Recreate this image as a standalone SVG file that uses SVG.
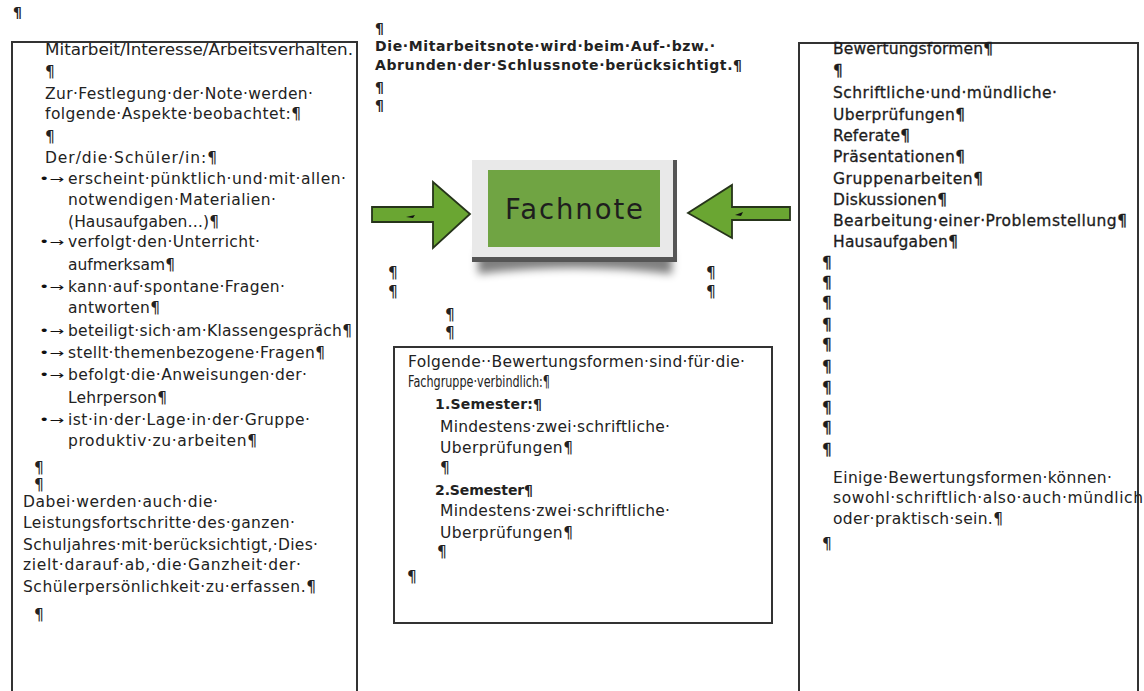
<svg xmlns="http://www.w3.org/2000/svg" width="1144" height="691" viewBox="0 0 1144 691">
<defs>
<style>
.t{font-family:"DejaVu Sans","Verdana",sans-serif;font-size:15.5px;fill:#222}
.b{font-family:"DejaVu Sans","Verdana",sans-serif;font-size:14px;font-weight:bold;fill:#222}
.r{font-family:"DejaVu Sans","Verdana",sans-serif;font-size:15.5px;fill:#1c1c1c;stroke:#1c1c1c;stroke-width:0.3}
.bul{font-family:"DejaVu Sans",sans-serif;font-size:12px;fill:#111}
.frame{fill:#fff;stroke:#333;stroke-width:2}
.arrow{fill:#6aa632;stroke:#26341a;stroke-width:1.8;stroke-linejoin:miter}
</style>
<clipPath id="clipL"><rect x="12" y="43" width="345" height="660"/></clipPath>
<filter id="sh" x="-20%" y="-20%" width="140%" height="160%"><feGaussianBlur stdDeviation="4"/></filter>
</defs>
<rect width="1144" height="691" fill="#fff"/>
<text class="b" x="13" y="17">¶</text>

<g id="left-box">
<rect class="frame" x="12" y="42" width="345" height="700"/>
<g clip-path="url(#clipL)">
<text class="t" x="45" y="55" textLength="308" lengthAdjust="spacingAndGlyphs">Mitarbeit/Interesse/Arbeitsverhalten.</text>
</g>
<text class="t" x="45" y="77">¶</text>
<text class="t" x="45" y="99" textLength="268" lengthAdjust="spacing">Zur·Festlegung·der·Note·werden·</text>
<text class="t" x="45" y="119" textLength="256" lengthAdjust="spacing">folgende·Aspekte·beobachtet:¶</text>
<text class="t" x="45" y="142">¶</text>
<text class="t" x="45" y="163" textLength="172" lengthAdjust="spacing">Der/die·Schüler/in:¶</text>
<text class="bul" x="39" y="183" textLength="25" lengthAdjust="spacingAndGlyphs">•→</text>
<text class="t" x="68" y="184" textLength="278" lengthAdjust="spacing">erscheint·pünktlich·und·mit·allen·</text>
<text class="t" x="68" y="205" textLength="208" lengthAdjust="spacing">notwendigen·Materialien·</text>
<text class="t" x="68" y="227" textLength="151" lengthAdjust="spacing">(Hausaufgaben…)¶</text>
<text class="bul" x="39" y="246" textLength="25" lengthAdjust="spacingAndGlyphs">•→</text>
<text class="t" x="68" y="247" textLength="192" lengthAdjust="spacing">verfolgt·den·Unterricht·</text>
<text class="t" x="68" y="270" textLength="107" lengthAdjust="spacing">aufmerksam¶</text>
<text class="bul" x="39" y="291" textLength="25" lengthAdjust="spacingAndGlyphs">•→</text>
<text class="t" x="68" y="292" textLength="217" lengthAdjust="spacing">kann·auf·spontane·Fragen·</text>
<text class="t" x="68" y="313" textLength="92" lengthAdjust="spacing">antworten¶</text>
<text class="bul" x="39" y="335" textLength="25" lengthAdjust="spacingAndGlyphs">•→</text>
<text class="t" x="68" y="336" textLength="284" lengthAdjust="spacing">beteiligt·sich·am·Klassengespräch¶</text>
<text class="bul" x="39" y="357" textLength="25" lengthAdjust="spacingAndGlyphs">•→</text>
<text class="t" x="68" y="358" textLength="257" lengthAdjust="spacing">stellt·themenbezogene·Fragen¶</text>
<text class="bul" x="39" y="379" textLength="25" lengthAdjust="spacingAndGlyphs">•→</text>
<text class="t" x="68" y="380" textLength="239" lengthAdjust="spacing">befolgt·die·Anweisungen·der·</text>
<text class="t" x="68" y="403" textLength="99" lengthAdjust="spacing">Lehrperson¶</text>
<text class="bul" x="39" y="424" textLength="25" lengthAdjust="spacingAndGlyphs">•→</text>
<text class="t" x="68" y="425" textLength="242" lengthAdjust="spacing">ist·in·der·Lage·in·der·Gruppe·</text>
<text class="t" x="68" y="446" textLength="189" lengthAdjust="spacing">produktiv·zu·arbeiten¶</text>
<text class="t" x="34" y="473">¶</text>
<text class="t" x="34" y="490">¶</text>
<text class="t" x="23" y="507" textLength="195" lengthAdjust="spacing">Dabei·werden·auch·die·</text>
<text class="t" x="23" y="528" textLength="272" lengthAdjust="spacing">Leistungsfortschritte·des·ganzen·</text>
<text class="t" x="23" y="550" textLength="295" lengthAdjust="spacing">Schuljahres·mit·berücksichtigt,·Dies·</text>
<text class="t" x="23" y="570" textLength="278" lengthAdjust="spacing">zielt·darauf·ab,·die·Ganzheit·der·</text>
<text class="t" x="23" y="592" textLength="293" lengthAdjust="spacing">Schülerpersönlichkeit·zu·erfassen.¶</text>
<text class="t" x="34" y="620">¶</text>
</g>

<g id="center-note">
<text class="b" x="375" y="33">¶</text>
<text class="b" x="375" y="51" textLength="340" lengthAdjust="spacing">Die·Mitarbeitsnote·wird·beim·Auf-·bzw.·</text>
<text class="b" x="375" y="70" textLength="367" lengthAdjust="spacing">Abrunden·der·Schlussnote·berücksichtigt.¶</text>
<text class="b" x="375" y="92">¶</text>
<text class="b" x="375" y="110">¶</text>
</g>

<g id="fachnote">
<path d="M478,250 L672,250 L672,274 Q575,262 478,274 Z" fill="#000" opacity="0.5" filter="url(#sh)"/>
<rect x="472" y="160" width="204" height="99" fill="#e9e9e9"/>
<rect x="673" y="160" width="4" height="101" fill="#555"/>
<rect x="472" y="257" width="205" height="5" fill="#555"/>
<rect x="488" y="170" width="172" height="77" fill="#70a443"/>
<text x="505" y="219" textLength="138" lengthAdjust="spacing" font-family="DejaVu Sans, Verdana, sans-serif" font-size="27.5" fill="#1e1e1e">Fachnote</text>
</g>

<g id="connectors">
<polygon class="arrow" points="372,207 433,207 433,182 470,214 433,248 433,222 372,222"/>
<path d="M406,217 L415,215 L413,218 Z" fill="#111"/>
<polygon class="arrow" points="790,207 732,207 732,185 688,213 732,238 732,220 790,220"/>
<path d="M735,215 L743,212 L741,216 Z" fill="#111"/>
</g>

<g id="pilcrows">
<text class="t" x="388" y="278">¶</text>
<text class="t" x="388" y="297">¶</text>
<text class="t" x="706" y="278">¶</text>
<text class="t" x="706" y="297">¶</text>
<text class="t" x="445" y="320">¶</text>
<text class="t" x="445" y="338">¶</text>
</g>

<g id="center-box">
<rect class="frame" x="394" y="347" width="378" height="276"/>
<text class="t" x="408" y="367" textLength="337" lengthAdjust="spacing">Folgende··Bewertungsformen·sind·für·die·</text>
<text class="t" x="408" y="387" textLength="142" lengthAdjust="spacingAndGlyphs">Fachgruppe·verbindlich:¶</text>
<text class="b" x="435" y="409" textLength="107" lengthAdjust="spacing">1.Semester:¶</text>
<text class="t" x="440" y="432" textLength="230" lengthAdjust="spacing">Mindestens·zwei·schriftliche·</text>
<text class="t" x="440" y="453" textLength="133" lengthAdjust="spacing">Uberprüfungen¶</text>
<text class="t" x="440" y="473">¶</text>
<text class="b" x="435" y="495" textLength="98" lengthAdjust="spacing">2.Semester¶</text>
<text class="t" x="440" y="516" textLength="230" lengthAdjust="spacing">Mindestens·zwei·schriftliche·</text>
<text class="t" x="440" y="538" textLength="133" lengthAdjust="spacing">Uberprüfungen¶</text>
<text class="t" x="437" y="557">¶</text>
<text class="t" x="407" y="582">¶</text>
</g>

<g id="right-box">
<rect class="frame" x="799" y="43" width="339" height="700"/>
<text class="r" x="833" y="54" textLength="160" lengthAdjust="spacing">Bewertungsformen¶</text>
<text class="r" x="833" y="76">¶</text>
<text class="r" x="833" y="98" textLength="224" lengthAdjust="spacing">Schriftliche·und·mündliche·</text>
<text class="r" x="833" y="120" textLength="132" lengthAdjust="spacing">Uberprüfungen¶</text>
<text class="r" x="833" y="141" textLength="77" lengthAdjust="spacing">Referate¶</text>
<text class="r" x="833" y="162" textLength="132" lengthAdjust="spacing">Präsentationen¶</text>
<text class="r" x="833" y="184" textLength="150" lengthAdjust="spacing">Gruppenarbeiten¶</text>
<text class="r" x="833" y="205" textLength="114" lengthAdjust="spacing">Diskussionen¶</text>
<text class="r" x="833" y="226" textLength="294" lengthAdjust="spacing">Bearbeitung·einer·Problemstellung¶</text>
<text class="r" x="833" y="247" textLength="125" lengthAdjust="spacing">Hausaufgaben¶</text>
<text class="r" x="822" y="268">¶</text>
<text class="r" x="822" y="288">¶</text>
<text class="r" x="822" y="308">¶</text>
<text class="r" x="822" y="330">¶</text>
<text class="r" x="822" y="350">¶</text>
<text class="r" x="822" y="372">¶</text>
<text class="r" x="822" y="393">¶</text>
<text class="r" x="822" y="413">¶</text>
<text class="r" x="822" y="433">¶</text>
<text class="r" x="822" y="455">¶</text>
<text class="t" x="833" y="483" textLength="279" lengthAdjust="spacing">Einige·Bewertungsformen·können·</text>
<text class="t" x="833" y="503" textLength="310" lengthAdjust="spacing">sowohl·schriftlich·also·auch·mündlich</text>
<text class="t" x="833" y="524" textLength="170" lengthAdjust="spacing">oder·praktisch·sein.¶</text>
<text class="t" x="822" y="549">¶</text>
</g>
</svg>
